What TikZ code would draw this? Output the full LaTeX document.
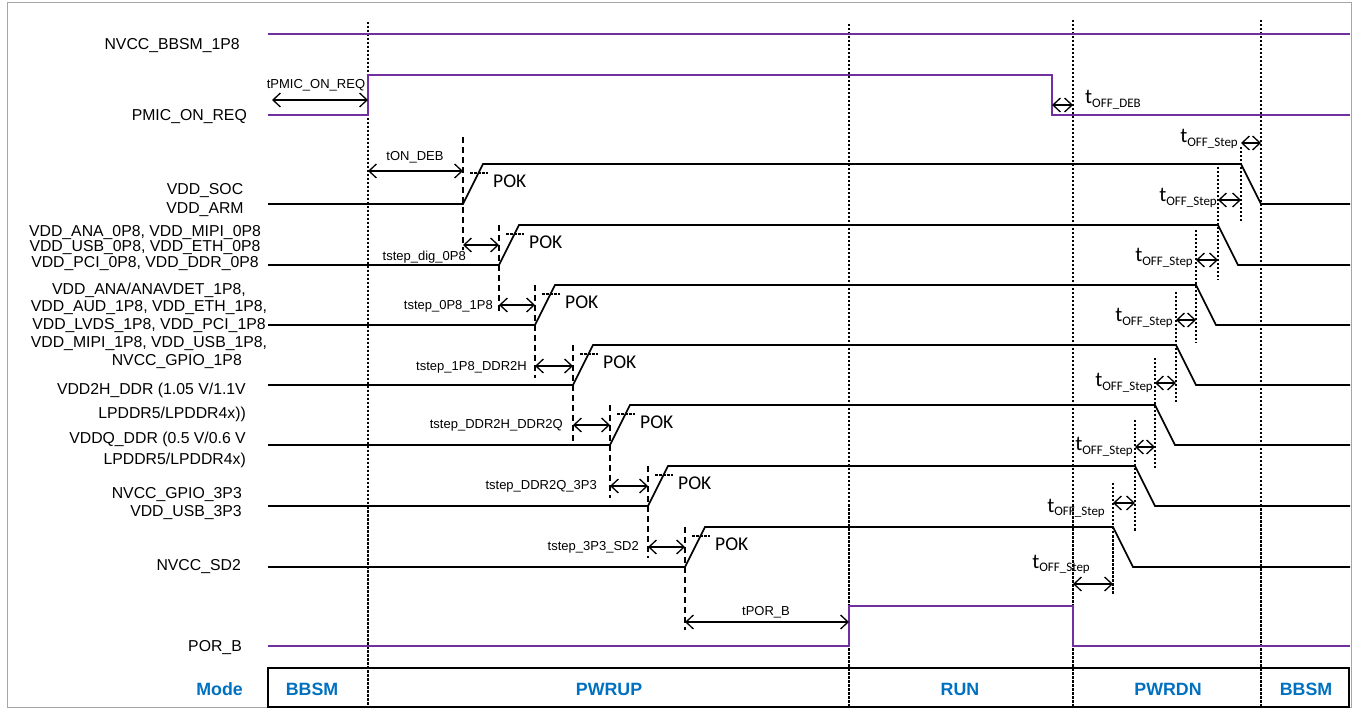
\documentclass[tikz,border=0pt]{standalone}
\usepackage{fontspec}
\setmainfont{Liberation Sans}
\newfontfamily\calib{Carlito}
\usetikzlibrary{arrows.meta}

\definecolor{sigpurple}{RGB}{112,48,160}
\definecolor{modeblue}{RGB}{0,112,192}

% t with OFF_xxx subscript, as on the power-down side
\newcommand{\toff}[1]{{\calib\fontsize{21}{21}\selectfont t\raisebox{-4pt}{\fontsize{13}{13}\selectfont OFF\_#1}}}

\tikzset{
  wave/.style={line width=1.6pt},
  pwave/.style={line width=2pt, sigpurple},
  sep/.style={line width=1.2pt, dash pattern=on 2.5pt off 1.5pt},
  updash/.style={line width=1.3pt, dash pattern=on 6pt off 4pt},
  dndash/.style={line width=1.2pt, dash pattern=on 2.5pt off 1.5pt},
  pokline/.style={line width=1.1pt, dash pattern=on 2.5pt off 1.5pt},
  dim/.style={<->, line width=1.3pt, >={Straight Barb[length=7.5pt,width=14pt]}},
  sig/.style={anchor=east, inner sep=0pt, align=right, font=\fontsize{15.8}{17}\selectfont},
  tlbl/.style={inner sep=0pt, font=\fontsize{13}{15}\selectfont},
  pok/.style={anchor=west, inner sep=0pt, font=\calib\fontsize{19.5}{20}\selectfont},
  offlbl/.style={anchor=base east, inner sep=0pt},
  modetxt/.style={inner sep=0pt, text=modeblue, font=\bfseries\fontsize{17.8}{20}\selectfont},
}

\begin{document}
\begin{tikzpicture}[x=1pt,y=-1pt]
    \useasboundingbox (0,0) rectangle (1353,708);
    % frame and the mode bar
    \draw[gray!70, line width=1pt] (7,2.5) rectangle (1351.5,707.5);
    \draw[line width=1.3pt] (268,668) rectangle (1349,707);

    % borders between the modes
    \foreach \x/\t in {368/22, 849/24, 1073/20, 1261/20}
        \draw[sep] (\x,\t) -- (\x,707);

    % always-on supply and the two control signals
    \draw[pwave] (268,34) -- (1350,34);
    \draw[pwave] (268,115) -- (368,115) -- (368,75) -- (1052,75) -- (1052,115) -- (1350,115);
    \draw[pwave] (268,646) -- (849,646) -- (849,606) -- (1073,606) -- (1073,646) -- (1350,646);

    % rails: up one after the other, down in reverse order
    \foreach \k/\yl/\xr/\xf in {1/204/463/1241, 2/265/499/1218, 3/325/535/1196,
                               4/385/573/1176, 5/445/610/1155, 6/506/648/1135, 7/567/685/1113}
    {
        \draw[wave] (268,\yl) -- (\xr,\yl) -- (\xr+20,\yl-40) -- (\xf,\yl-40) -- (\xf+20,\yl) -- (1350,\yl);
        \draw[pokline] (\xr+7,\yl-31) -- (\xr+25,\yl-31);
        \node[pok] (pok\k) at (\xr+30,\yl-23) {POK};
    };

    % marks where each rail starts to rise / to fall
    \foreach \x/\a/\b in {463/137/250, 499/225/312, 535/285/378, 573/345/442,
                          610/405/498, 648/466/558, 685/527/630}
        \draw[updash] (\x,\a) -- (\x,\b);
    \foreach \x/\a/\b in {1241/147/222, 1218/167/280, 1196/230/343, 1176/292/403,
                          1155/358/470, 1135/420/532, 1113/483/595}
        \draw[dndash] (\x,\a) -- (\x,\b);

    % timing arrows, power-up
    \draw[dim] (272,100) -- (368,100);
    \draw[dim] (368,171) -- (463,171);
    \foreach \a/\b/\y in {463/499/245, 499/535/305, 535/573/366, 573/610/425, 610/648/486, 648/685/547}
        \draw[dim] (\a,\y) -- (\b,\y);
    \draw[dim] (685,622) -- (849,622);

    % timing arrows, power-down
    \draw[dim] (1052,105) -- (1073,105);
    \foreach \a/\b/\y in {1241/1261/143, 1218/1241/200, 1196/1218/260, 1176/1196/320,
                          1155/1176/383, 1135/1155/447, 1113/1135/503, 1073/1113/584}
        \draw[dim] (\a,\y) -- (\b,\y);

    % timing labels
    \node[tlbl] (tpmic) at (316,85) {tPMIC\_ON\_REQ};
    \node[tlbl] (tondeb) at (415,157) {tON\_DEB};
    \node[tlbl, anchor=east] (tdig) at (466,257) {tstep\_dig\_0P8};
    \node[tlbl, anchor=east] (t0p8) at (493,306) {tstep\_0P8\_1P8};
    \node[tlbl, anchor=east] (t1p8) at (527,367) {tstep\_1P8\_DDR2H};
    \node[tlbl, anchor=east] (tddr2h) at (563,425) {tstep\_DDR2H\_DDR2Q};
    \node[tlbl, anchor=east] (tddr2q) at (597,486) {tstep\_DDR2Q\_3P3};
    \node[tlbl, anchor=east] (t3p3) at (639,547) {tstep\_3P3\_SD2};
    \node[tlbl] (tpor) at (766,612) {tPOR\_B};

    \node[anchor=base west, inner sep=0pt] (toffdeb) at (1085,104) {\toff{DEB}};
    \foreach \x/\y/\n in {1238/143/1, 1217/202/2, 1193/262/3, 1173/322/4,
                          1153/387/5, 1133/451/6, 1105/512/7, 1090/568/8}
        \node[offlbl] (toff\n) at (\x,\y) {\toff{Step}};

    % signal names
    \node[sig] (bbsm) at (240,46) {NVCC\_BBSM\_1P8};
    \node[sig] (pmic) at (247,117) {PMIC\_ON\_REQ};
    \node[sig, anchor=center, align=center, font=\fontsize{15.8}{19}\selectfont] (soc) at (205,200)
        {VDD\_SOC\\VDD\_ARM};
    \node[sig, anchor=center, align=center, font=\fontsize{15.8}{15.3}\selectfont] (rail0p8) at (145,248)
        {VDD\_ANA\_0P8, VDD\_MIPI\_0P8\\VDD\_USB\_0P8, VDD\_ETH\_0P8\\VDD\_PCI\_0P8, VDD\_DDR\_0P8};
    \node[sig, anchor=center, align=center, font=\fontsize{15.8}{17.7}\selectfont] (rail1p8) at (149,316.5)
        {VDD\_ANA/ANAVDET\_1P8,\\VDD\_AUD\_1P8, VDD\_ETH\_1P8,\\VDD\_LVDS\_1P8, VDD\_PCI\_1P8\\VDD\_MIPI\_1P8, VDD\_USB\_1P8,};
    \node[sig] (gpio1p8) at (242,362) {NVCC\_GPIO\_1P8};
    \node[sig, font=\fontsize{15.8}{24}\selectfont] (ddr2h) at (246,402) {VDD2H\_DDR (1.05 V/1.1V\\LPDDR5/LPDDR4x))};
    \node[sig, font=\fontsize{15.8}{21}\selectfont] (ddrq) at (246,450) {VDDQ\_DDR (0.5 V/0.6 V\\LPDDR5/LPDDR4x)};
    \node[sig, font=\fontsize{15.8}{18}\selectfont] (gpio3p3) at (242,504) {NVCC\_GPIO\_3P3\\VDD\_USB\_3P3};
    \node[sig] (sd2) at (241,567) {NVCC\_SD2};
    \node[sig] (porb) at (242,648) {POR\_B};

    % modes
    \node[modetxt, anchor=east] (mode) at (243,689) {Mode};
    \foreach \x/\t/\n in {312/BBSM/a, 609/PWRUP/b, 960/RUN/c, 1168/PWRDN/d, 1306/BBSM/e}
        \node[modetxt] (mode\n) at (\x,689) {\t};
\end{tikzpicture}
\end{document}
